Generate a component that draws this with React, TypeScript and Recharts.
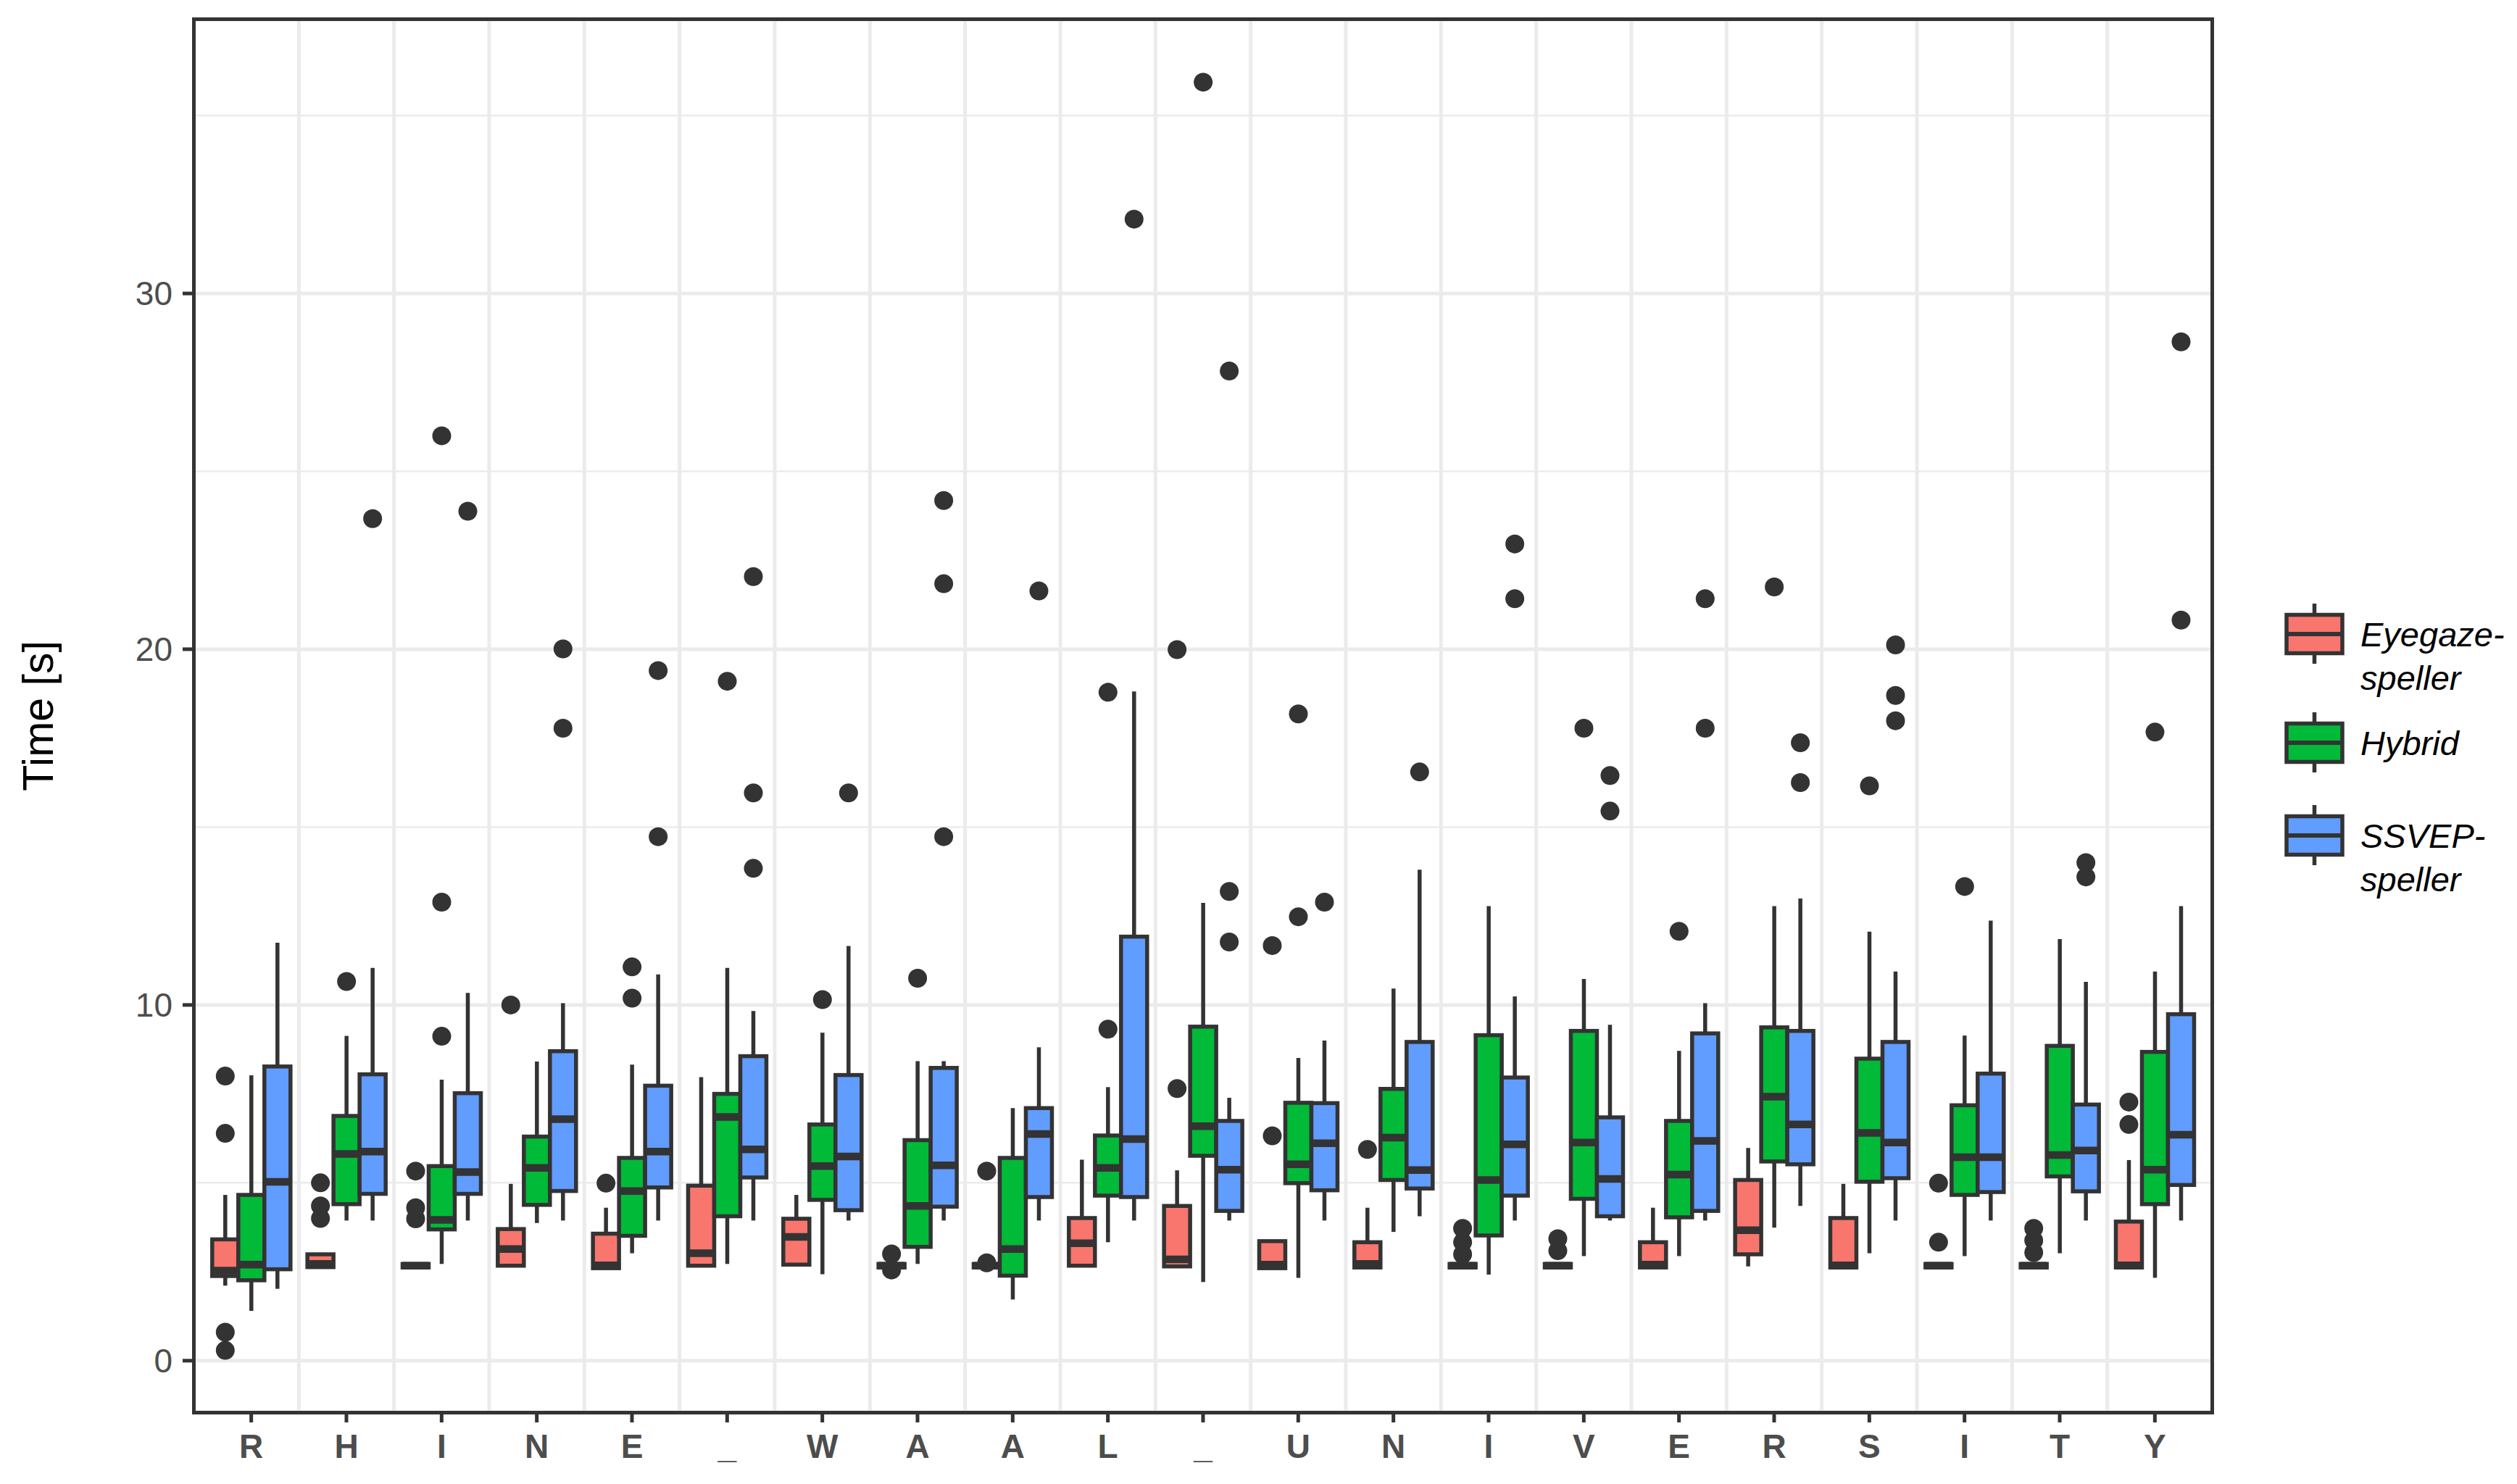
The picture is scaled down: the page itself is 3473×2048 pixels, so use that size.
import React from 'react';
import { BarChart, Bar, XAxis, YAxis, CartesianGrid } from 'recharts';

const letters = ['R', 'H', 'I', 'N', 'E', '_', 'W', 'A', 'A', 'L', '_', 'U', 'N', 'I', 'V', 'E', 'R', 'S', 'I', 'T', 'Y'];

// each box: [lower whisker, q1, median, q3, upper whisker]
const eyegazeBox = [
  [2.11, 2.38, 2.53, 3.41, 4.66], [2.63, 2.63, 2.72, 2.99, 2.99], [2.62, 2.62, 2.67, 2.72, 2.72],
  [2.67, 2.67, 3.14, 3.70, 4.97], [2.60, 2.60, 2.68, 3.57, 4.30], [2.67, 2.67, 3.02, 4.92, 7.97],
  [2.70, 2.70, 3.48, 3.99, 4.66], [2.62, 2.62, 2.67, 2.72, 2.72], [2.62, 2.62, 2.67, 2.72, 2.72],
  [2.67, 2.67, 3.30, 4.01, 5.65], [2.65, 2.65, 2.85, 4.35, 5.35], [2.60, 2.60, 2.70, 3.36, 3.36],
  [2.62, 2.62, 2.72, 3.33, 4.30], [2.62, 2.62, 2.67, 2.72, 2.72], [2.62, 2.62, 2.67, 2.72, 2.72],
  [2.62, 2.62, 2.70, 3.33, 4.30], [2.65, 2.99, 3.67, 5.08, 5.98], [2.62, 2.62, 2.68, 4.01, 4.97],
  [2.62, 2.62, 2.67, 2.72, 2.72], [2.62, 2.62, 2.67, 2.72, 2.72], [2.62, 2.62, 2.68, 3.91, 5.64],
];
const eyegazeOut = [
  [8.0, 6.39, 0.8, 0.29], [5.0, 4.35, 4.0], [5.33, 4.3, 3.99], [10.0], [4.99], [], [], [3.0, 2.55],
  [5.33, 2.75], [], [7.65, 19.99], [6.32, 11.67], [5.94], [3.72, 3.33, 2.99], [3.43, 3.09], [], [],
  [], [4.99, 3.33], [3.72, 3.38, 3.04], [7.27, 6.64],
];

const hybridBox = [
  [1.40, 2.26, 2.70, 4.66, 8.02], [3.94, 4.40, 5.81, 6.88, 9.13], [2.72, 3.69, 3.96, 5.47, 7.90],
  [3.87, 4.38, 5.42, 6.30, 8.41], [3.02, 3.51, 4.77, 5.70, 8.32], [2.72, 4.06, 6.85, 7.50, 11.04],
  [2.43, 4.52, 5.47, 6.64, 9.22], [2.72, 3.20, 4.35, 6.20, 8.42], [1.72, 2.39, 3.14, 5.70, 7.10],
  [3.33, 4.64, 5.42, 6.33, 7.69], [2.21, 5.76, 6.59, 9.39, 12.87], [2.33, 4.99, 5.52, 7.25, 8.51],
  [3.62, 5.08, 6.27, 7.64, 10.46], [2.42, 3.52, 5.08, 9.15, 12.78], [2.94, 4.55, 6.13, 9.27, 10.73],
  [2.94, 4.03, 5.23, 6.74, 8.71], [3.74, 5.60, 7.42, 9.37, 12.78], [3.02, 5.03, 6.40, 8.49, 12.06],
  [2.94, 4.66, 5.72, 7.18, 9.14], [3.02, 5.18, 5.78, 8.85, 11.85], [2.33, 4.40, 5.37, 8.68, 10.94],
];
const hybridOut = [
  [], [10.66], [9.12, 12.89, 26.0], [], [10.19, 11.07], [19.1], [10.15], [10.75], [], [9.32, 18.79],
  [35.94], [12.48, 18.18], [], [], [17.78], [12.07], [21.75], [16.16], [13.33], [], [17.67],
];

const ssvepBox = [
  [2.02, 2.57, 5.03, 8.27, 11.75], [3.94, 4.69, 5.88, 8.05, 11.04], [3.94, 4.69, 5.30, 7.52, 10.34],
  [3.94, 4.77, 6.79, 8.70, 10.05], [3.94, 4.87, 5.88, 7.73, 10.86], [3.94, 5.15, 5.94, 8.56, 9.83],
  [3.94, 4.23, 5.74, 8.03, 11.66], [3.94, 4.33, 5.49, 8.23, 8.42], [3.94, 4.60, 6.37, 7.10, 8.81],
  [3.94, 4.60, 6.23, 11.92, 18.81], [3.94, 4.21, 5.37, 6.74, 7.39], [3.94, 4.79, 6.11, 7.24, 9.00],
  [4.06, 4.84, 5.36, 8.96, 13.80], [3.94, 4.64, 6.08, 7.96, 10.24], [3.94, 4.06, 5.11, 6.84, 9.44],
  [3.94, 4.21, 6.18, 9.20, 10.05], [4.35, 5.52, 6.64, 9.27, 12.99], [3.94, 5.13, 6.13, 8.96, 10.94],
  [3.94, 4.74, 5.72, 8.07, 12.37], [3.94, 4.76, 5.91, 7.20, 10.65], [3.94, 4.94, 6.35, 9.74, 12.78],
];
const ssvepOut = [
  [], [23.67], [23.88], [20.01, 17.78], [14.73, 19.4], [13.84, 15.96, 22.04], [15.96],
  [14.73, 21.84, 24.18], [21.64], [32.09], [11.77, 13.19, 27.82], [12.89], [16.55], [21.42, 22.96],
  [15.45, 16.45], [17.78, 21.42], [16.25, 17.37], [17.99, 18.7, 20.12], [], [13.6, 14.0], [20.82, 28.64],
];

const yTicks = [0, 10, 20, 30];
const yMinorTicks = [5, 15, 25, 35];
const yDomain = [-1.45, 37.7];

const groups = [
  { key: 'eye', lines: ['Eyegaze-', 'speller'], color: '#F8766D', box: eyegazeBox, out: eyegazeOut },
  { key: 'hyb', lines: ['Hybrid'], color: '#00BA38', box: hybridBox, out: hybridOut },
  { key: 'ssv', lines: ['SSVEP-', 'speller'], color: '#619CFF', box: ssvepBox, out: ssvepOut },
];

const data = letters.map((_, i) => {
  const row: Record<string, any> = { key: String(i) };
  groups.forEach((g) => { row[g.key] = [g.box[i][0], g.box[i][4]]; });
  return row;
});

const W = 3473;
const H = 2048;
const INK = '#333333';
const GRID = '#EBEBEB';
const FONT = '"Liberation Sans", Arial, sans-serif';
const plot = { left: 268, top: 27, right: 3052, bottom: 1949 };
const X_PAD = 13;

// vertical lines sit on the boundaries between letters (start of each band)
const bandStarts = ({ xAxis, offset }: any) => {
  const keys = data.slice(1).map((d) => d.key);
  if (xAxis && typeof xAxis.scale === 'function') {
    const pts = keys.map((k) => xAxis.scale(k));
    if (pts.every((p) => Number.isFinite(p))) return pts;
  }
  const step = (offset.width - 2 * X_PAD) / data.length;
  return keys.map((_, i) => offset.left + X_PAD + (i + 1) * step);
};

const minorRows = ({ yAxis, offset }: any) => {
  if (yAxis && typeof yAxis.scale === 'function') {
    const pts = yMinorTicks.map((v) => yAxis.scale(v));
    if (pts.every((p) => Number.isFinite(p))) return pts;
  }
  const span = yDomain[1] - yDomain[0];
  return yMinorTicks.map((v) => offset.top + ((yDomain[1] - v) / span) * offset.height);
};

function BoxShape(props: any) {
  const { x, y, width, height, index, box, out, color } = props;
  const [lo, q1, med, q3, hi] = box[index];
  // map values inside the bar's [lo, hi] span onto pixels
  const py = (v: number) => y + ((hi - v) / (hi - lo)) * height;
  const cx = x + width / 2;
  return (
    <g>
      <line x1={cx} x2={cx} y1={py(hi)} y2={py(q3)} stroke={INK} strokeWidth={5.5} />
      <line x1={cx} x2={cx} y1={py(q1)} y2={py(lo)} stroke={INK} strokeWidth={5.5} />
      <rect x={x} y={py(q3)} width={width} height={py(q1) - py(q3)} fill={color} stroke={INK} strokeWidth={5.5} />
      <line x1={x} x2={x + width} y1={py(med)} y2={py(med)} stroke={INK} strokeWidth={10.5} />
      {out[index].map((v: number, j: number) => (
        <circle key={j} cx={cx} cy={py(v)} r={13} fill={INK} />
      ))}
    </g>
  );
}

function YTitle(props: any) {
  const vb = props.viewBox || {};
  const cy = vb.height ? vb.y + vb.height / 2 : (plot.top + plot.bottom) / 2;
  const x = 73;
  return (
    <text x={x} y={cy} transform={`rotate(-90, ${x}, ${cy})`} textAnchor="middle"
      fontSize={59} fontFamily={FONT} fill="#000000">
      Time [s]
    </text>
  );
}

function LegendBox() {
  let c = 95;
  const items = groups.map((g) => {
    const center = c;
    c += 128 + 22 * (g.lines.length - 1);
    return (
      <g key={g.key}>
        <line x1={93.5} x2={93.5} y1={center - 42} y2={center + 41} stroke={INK} strokeWidth={5.5} />
        <rect x={55} y={center - 26.5} width={77} height={53} fill={g.color} stroke={INK} strokeWidth={5.5} />
        <line x1={55} x2={132} y1={center} y2={center} stroke={INK} strokeWidth={6} />
        {g.lines.map((t, j) => (
          <text key={j} x={157} y={center + 17 + j * 60} fontSize={47} fontStyle="italic"
            fontFamily={FONT} fill="#000000">{t}</text>
        ))}
      </g>
    );
  });
  return (
    <svg width={373} height={480} style={{ position: 'absolute', left: 3100, top: 780 }}>
      {items}
    </svg>
  );
}

export default function App() {
  return (
    <div style={{ position: 'relative', width: W, height: H, background: '#ffffff' }}>
      <style>{'body{margin:0}'}</style>
      <BarChart width={W} height={H} data={data} barCategoryGap="9%" barGap={0}
        margin={{ top: plot.top, right: W - plot.right, bottom: 0, left: 0 }}>
        <CartesianGrid horizontalCoordinatesGenerator={minorRows} vertical={false}
          stroke={GRID} strokeWidth={2.5} />
        <CartesianGrid verticalCoordinatesGenerator={bandStarts} stroke={GRID} strokeWidth={5} />
        <XAxis dataKey="key" type="category" interval={0} height={H - plot.bottom}
          padding={{ left: X_PAD, right: X_PAD }} axisLine={false}
          tickLine={{ stroke: INK, strokeWidth: 5 }} tickSize={14} tickMargin={16}
          tickFormatter={(v) => letters[Number(v)]}
          tick={{ fontSize: 46, fontWeight: 'bold', fill: '#4D4D4D', fontFamily: FONT }} />
        <YAxis type="number" domain={yDomain} ticks={yTicks} allowDataOverflow width={plot.left}
          axisLine={false} tickLine={{ stroke: INK, strokeWidth: 5 }} tickSize={16} tickMargin={14}
          tick={{ fontSize: 46, fill: '#4D4D4D', fontFamily: FONT }}
          label={(p: any) => <YTitle {...p} />} />
        {groups.map((g) => (
          <Bar key={g.key} dataKey={g.key} isAnimationActive={false}
            shape={(p: any) => <BoxShape {...p} box={g.box} out={g.out} color={g.color} />} />
        ))}
      </BarChart>
      <div style={{
        position: 'absolute', left: plot.left - 2.75, top: plot.top - 2.75,
        width: plot.right - plot.left + 5.5, height: plot.bottom - plot.top + 5.5,
        border: `5.5px solid ${INK}`, boxSizing: 'border-box', pointerEvents: 'none',
      }} />
      <LegendBox />
    </div>
  );
}
